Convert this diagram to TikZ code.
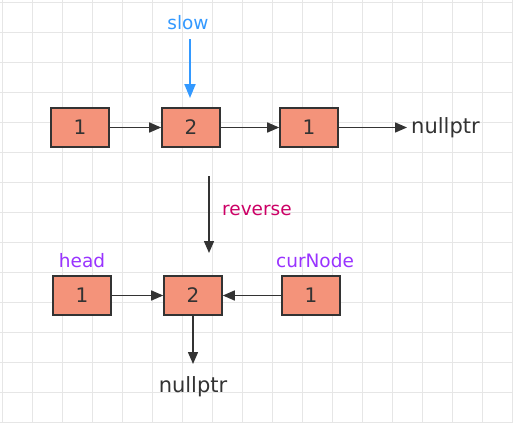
\documentclass[tikz,border=0pt]{standalone}
\usepackage{fontspec}
\setmainfont{DejaVu Sans}
\usetikzlibrary{arrows.meta}
\definecolor{boxfill}{HTML}{F4937A}
\definecolor{boxline}{HTML}{333333}
\definecolor{slowblue}{HTML}{3399FF}
\definecolor{revred}{HTML}{CC0066}
\definecolor{lblpurple}{HTML}{9933FF}
\definecolor{gridc}{HTML}{E6E6E6}
\tikzset{
  listnode/.style={draw=boxline, fill=boxfill, line width=1.6pt, minimum width=58pt, minimum height=39pt, inner sep=0pt, font=\fontsize{20}{20}\selectfont, text=boxline},
  link/.style={draw=boxline, line width=1.5pt, -{Triangle[length=12pt,width=10pt]}},
  txt/.style={font=\fontsize{21}{21}\selectfont, inner sep=0pt, text=boxline},
  lbl/.style={font=\fontsize{18.5}{18.5}\selectfont, inner sep=0pt}
}
\begin{document}
\begin{tikzpicture}[x=1pt,y=-1pt]
\useasboundingbox (0,0) rectangle (513,423);
\fill[white] (0,0) rectangle (513,423);
\foreach \i in {0,...,17} {\draw[gridc, line width=0.8pt] (2+30*\i,0) -- (2+30*\i,423);}
\foreach \j in {0,...,14} {\draw[gridc, line width=0.8pt] (0,2+30*\j) -- (513,2+30*\j);}
% top row
\node[listnode] (a1) at (80,127.5) {1};
\node[listnode] (a2) at (191,127.5) {2};
\node[listnode] (a3) at (309,127.5) {1};
\node[txt, anchor=west] (anull) at (411,127.5) {nullptr};
\node[lbl, text=slowblue] (slow) at (188,23) {slow};
\coordinate (slowtop) at (190,39);
\draw[slowblue, line width=2pt, -{Triangle[length=14pt,width=11pt]}] (slowtop) -- (190,98);
\draw[link] (a1) -- (a2);
\draw[link] (a2) -- (a3);
\draw[link, shorten >=4pt] (a3.east) -- (anull.west);
% reverse
\coordinate (revtop) at (209,176);
\coordinate (revbot) at (209,253);
\draw[link] (revtop) -- (revbot);
\node[lbl, text=revred, anchor=west] (rev) at (222,210) {reverse};
% bottom row
\node[listnode] (b1) at (82,295.5) {1};
\node[listnode] (b2) at (193,295.5) {2};
\node[listnode] (b3) at (311,295.5) {1};
\node[lbl, text=lblpurple] (head) at (82,261) {head};
\node[lbl, text=lblpurple] (cur) at (315,261) {curNode};
\node[txt] (bnull) at (193,387) {nullptr};
\draw[link] (b1) -- (b2);
\draw[link] (b3) -- (b2);
\draw[link] (b2) -- (193,364);
\end{tikzpicture}
\end{document}
